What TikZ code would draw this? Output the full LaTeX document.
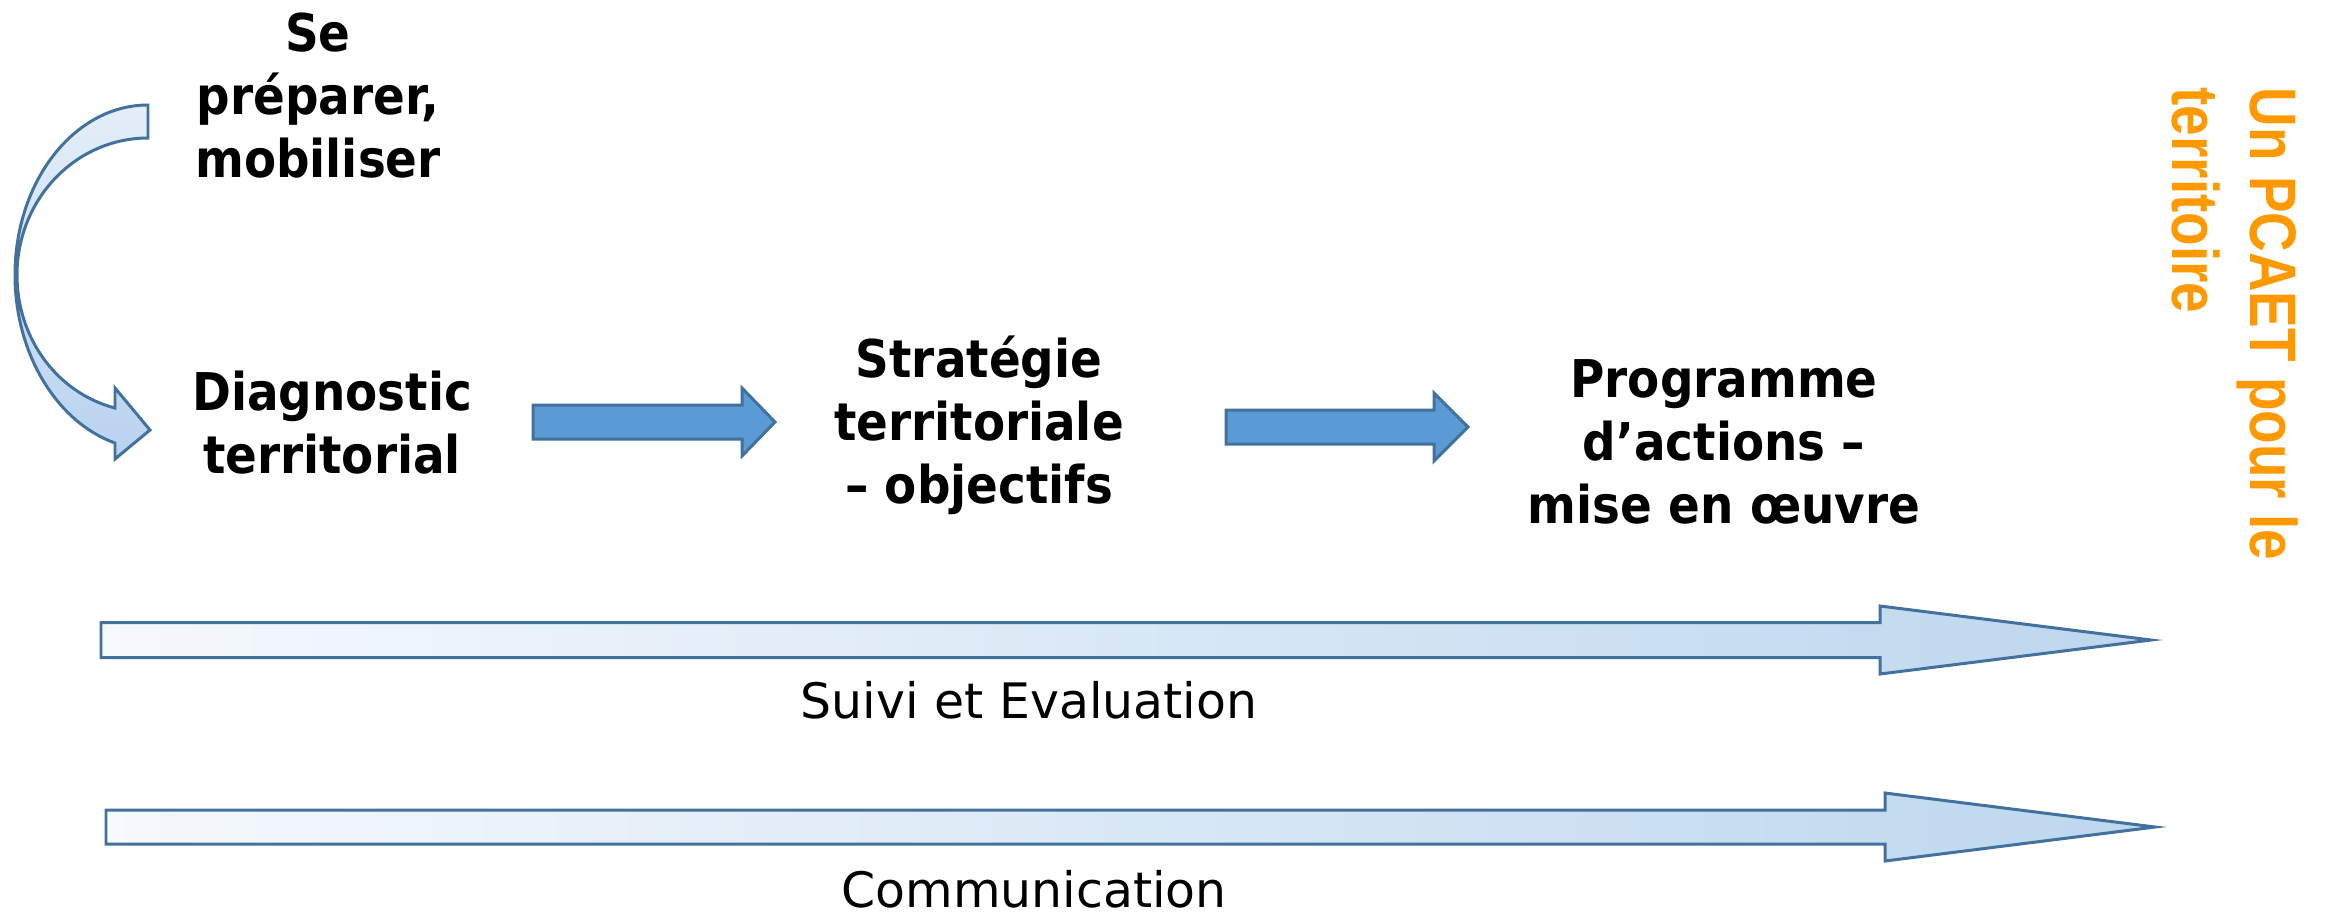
\documentclass[tikz,border=0pt]{standalone}
\usepackage{fontspec}
\setmainfont{DejaVu Sans}
\newfontfamily\pcaetfont{Liberation Sans}
\usepackage{xcolor}
\usetikzlibrary{calc}
\tikzset{>=stealth}

\definecolor{stepblue}{HTML}{5B9BD5}
\definecolor{edgeblue}{HTML}{41719C}
\definecolor{lightblue}{HTML}{BDD7EE}
\definecolor{paleblue}{HTML}{F6F9FD}
\definecolor{curvetop}{HTML}{E4EEF9}
\definecolor{curvebottom}{HTML}{B9D2F0}
\definecolor{pcaetorange}{HTML}{FF9900}

\tikzset{
  phase/.style={align=center, anchor=base, inner sep=0pt, xscale=0.9, font=\bfseries\fontsize{14.8}{17.9}\selectfont},
  track/.style={anchor=base, inner sep=0pt, font=\fontsize{13.9}{16}\selectfont},
  stepfleche/.style={draw=edgeblue, line width=0.85pt, fill=stepblue, line join=miter},
  trackfleche/.style={draw=edgeblue, line width=0.85pt, left color=paleblue, right color=lightblue, line join=miter},
  title/.style={anchor=north west, align=left, inner sep=0pt, text=pcaetorange,
    font=\pcaetfont\bfseries\fontsize{15.6}{18.5}\selectfont, xscale=1.2, rotate=-90}
}

% #1 start, #2 tip, #3 half shaft, #4 half head, #5 head length, #6 style
\newcommand{\fleche}[6]{%
  \draw[#6] ($(#1)+(0,-#3)$) -- ($(#2)+(-#5,-#3)$) -- ($(#2)+(-#5,-#4)$) -- (#2)
    -- ($(#2)+(-#5,#4)$) -- ($(#2)+(-#5,#3)$) -- ($(#1)+(0,#3)$) -- cycle;}

\begin{document}
\begin{tikzpicture}[x=0.01cm, y=-0.01cm]
        \useasboundingbox (0,0) rectangle (2328,911);

        %phases (base = last line)
        \node[phase] (prep) at (318,177) {Se\\préparer,\\mobiliser};
        \node[phase] (diag) at (332,473) {Diagnostic\\territorial};
        \node[phase] (strat) at (979,503) {Stratégie\\territoriale\\– objectifs};
        \node[phase] (prog) at (1724,523) {Programme\\d’actions –\\mise en œuvre};

        %curved arrow from prep to diag
        \draw[draw=edgeblue, line width=0.85pt, top color=curvetop, bottom color=curvebottom, line join=miter]
            (148,105) .. controls (74.5,105) and (15,181) .. (15,275)
            .. controls (15,353.5) and (56.6,422) .. (115,443)
            -- (115,459) -- (150,430) -- (115,388) -- (115,408)
            .. controls (56.7,392.8) and (17,337.9) .. (17,275)
            .. controls (17,199.3) and (75.6,138) .. (148,138) -- cycle;

        %step arrows
        \coordinate (s1) at (533,422);
        \coordinate (t1) at (775,422);
        \coordinate (s2) at (1226,427);
        \coordinate (t2) at (1468,427);
        \fleche{s1}{t1}{17}{34}{33}{stepfleche}
        \fleche{s2}{t2}{17}{34}{34}{stepfleche}

        %suivi and communication
        \coordinate (s3) at (101,640);
        \coordinate (t3) at (2151,640);
        \coordinate (s4) at (106,827);
        \coordinate (t4) at (2155,827);
        \fleche{s3}{t3}{17.5}{34}{271}{trackfleche}
        \fleche{s4}{t4}{17}{34}{270}{trackfleche}
        \node[track] (suivi) at (1029,718) {Suivi et Evaluation};
        \node[track] (comm) at (1034,907) {Communication};

        %title
        \node[title] (pcaet) at (2299,87) {Un PCAET pour le\\territoire};

\end{tikzpicture}
\end{document}
